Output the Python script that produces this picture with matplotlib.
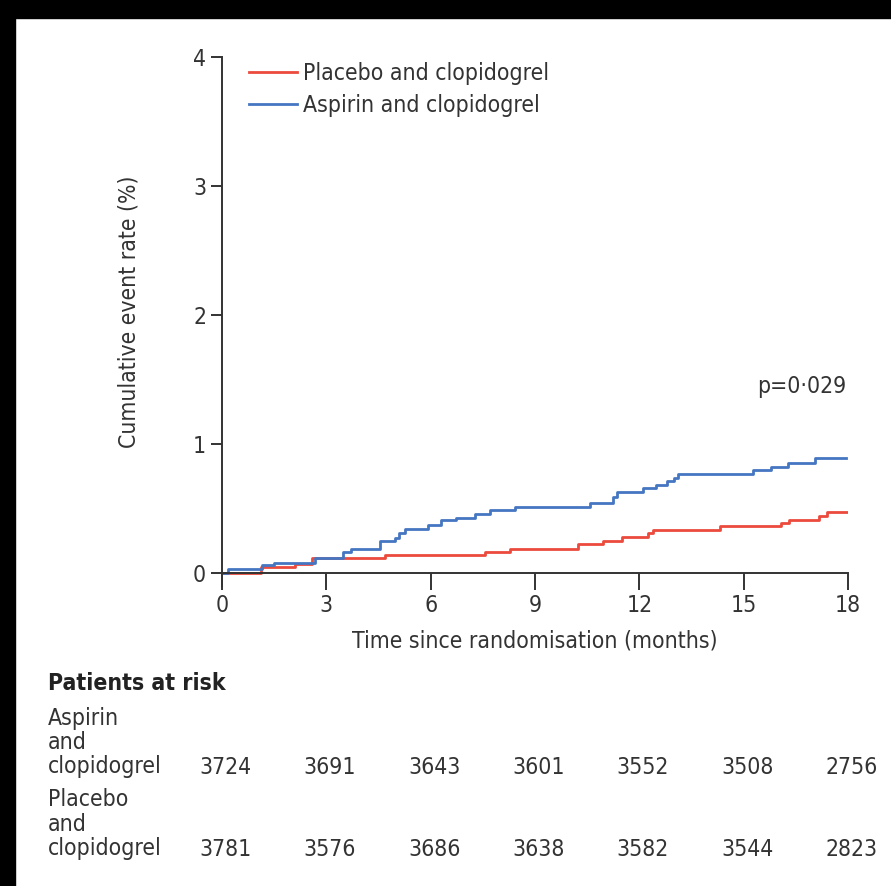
import matplotlib
matplotlib.use('Agg')
import matplotlib.pyplot as plt
import matplotlib.transforms as mtransforms
from matplotlib.patches import Rectangle

plt.rcParams['font.family'] = ['DejaVu Sans']
plt.rcParams['font.stretch'] = 'condensed'

# cumulative event rate (%), step points
aspirin_t = [0, 0.18, 1.15, 1.5, 2.67, 3.49, 3.7, 4.54, 4.97, 5.1, 5.26, 5.93, 6.31, 6.74,
             7.27, 7.7, 8.42, 10.57, 11.24, 11.35, 12.1, 12.49, 12.8, 13.0, 13.11, 15.27,
             15.8, 16.27, 17.04, 17.95]
aspirin_v = [0, 0.03, 0.06, 0.08, 0.12, 0.165, 0.185, 0.245, 0.27, 0.31, 0.345, 0.375, 0.41, 0.43,
             0.46, 0.49, 0.515, 0.545, 0.59, 0.63, 0.66, 0.68, 0.71, 0.74, 0.765, 0.80,
             0.825, 0.85, 0.89, 0.89]
placebo_t = [0, 1.12, 2.1, 2.58, 4.68, 7.56, 8.28, 10.24, 10.96, 11.49, 12.25, 12.4, 14.31,
             16.08, 16.3, 17.18, 17.4, 18.0]
placebo_v = [0, 0.05, 0.067, 0.12, 0.14, 0.165, 0.19, 0.225, 0.25, 0.28, 0.31, 0.335, 0.365,
             0.39, 0.415, 0.445, 0.475, 0.475]

risk_times = [0, 3, 6, 9, 12, 15, 18]
aspirin_risk = [3724, 3691, 3643, 3601, 3552, 3508, 2756]
placebo_risk = [3781, 3576, 3686, 3638, 3582, 3544, 2823]

red = '#ec4a3c'
blue = '#4576c2'
ink = '#333333'
fs = 16.5

fig = plt.figure(figsize=(8.91, 8.86), dpi=100)
ax = fig.add_axes([222 / 891, 1 - 586 / 886, 626 / 891, 529 / 886])

ax.step(placebo_t, placebo_v, where='post', color=red, lw=2.0, label='Placebo and clopidogrel')
ax.step(aspirin_t, aspirin_v, where='post', color=blue, lw=2.0, label='Aspirin and clopidogrel')

ax.set_xlim(0, 18)
ax.set_ylim(-0.1, 4)
ax.set_xticks(risk_times)
ax.set_yticks([0, 1, 2, 3, 4])
for s in ['top', 'right']:
    ax.spines[s].set_visible(False)
ax.spines['bottom'].set_position(('data', 0))
for s in ['left', 'bottom']:
    ax.spines[s].set_color(ink)
    ax.spines[s].set_linewidth(1.4)
ax.tick_params(axis='both', colors=ink, labelcolor=ink, width=1.4, length=8, labelsize=fs)
ax.tick_params(axis='x', direction='out', length=12, pad=3)

ax.set_xlabel('Time since randomisation (months)', fontsize=fs, color=ink, labelpad=9)
ax.set_ylabel('Cumulative event rate (%)', fontsize=fs, color=ink)
ax.yaxis.set_label_coords(-0.13, 0.518)

ax.text(17.95, 1.45, 'p=0\u00b7029', fontsize=fs, color=ink, ha='right', va='center')

leg = ax.legend(loc='upper left', bbox_to_anchor=(0.01, 1.03), frameon=False, fontsize=fs,
                handlelength=2.1, handletextpad=0.25, labelspacing=0.42)
for t in leg.get_texts():
    t.set_color(ink)

# patients at risk table
trans = mtransforms.blended_transform_factory(ax.transData, fig.transFigure)
fig.text(48 / 891, 1 - 684 / 886, 'Patients at risk', fontsize=fs, fontweight='bold',
         color='#222222', va='center')
rows = [(['Aspirin', 'and', 'clopidogrel'], aspirin_risk, 718),
        (['Placebo', 'and', 'clopidogrel'], placebo_risk, 800)]
for lines, counts, ytop in rows:
    for i, line in enumerate(lines):
        fig.text(48 / 891, 1 - (ytop + i * 24.5) / 886, line, fontsize=fs, color=ink, va='center')
    ynum = 1 - (ytop + 2 * 24.5) / 886
    for t, n in zip(risk_times, counts):
        fig.text(t + 0.1, ynum, str(n), transform=trans, fontsize=fs, color=ink,
                 ha='center', va='center')

# black frame strips at the top and left of the scan
fig.patches.append(Rectangle((0, 1 - 18 / 886), 1, 18 / 886, transform=fig.transFigure,
                             color='black', zorder=10))
fig.patches.append(Rectangle((0, 0), 15 / 891, 1, transform=fig.transFigure,
                             color='black', zorder=10))

fig.savefig('out.png', dpi=100, facecolor='white')
